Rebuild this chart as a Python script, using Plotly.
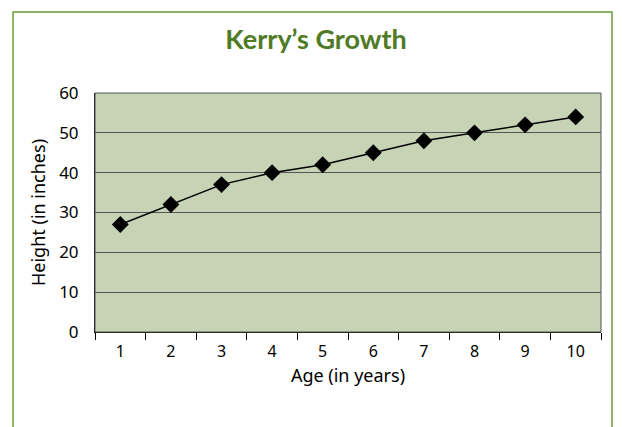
import plotly.graph_objects as go

ages = ["1", "2", "3", "4", "5", "6", "7", "8", "9", "10"]
heights = [27, 32, 37, 40, 42, 45, 48, 50, 52, 54]
y_ticks = [0, 10, 20, 30, 40, 50, 60]

fig = go.Figure()
fig.add_trace(go.Scatter(
    x=ages, y=heights, mode="lines+markers",
    line=dict(color="black", width=1.5),
    marker=dict(symbol="diamond", size=13, color="black"),
    showlegend=False,
))

W, H = 622, 427
L, R, T, B = 95, 21, 93, 95
pw, ph = W - L - R, H - T - B

fig.update_layout(
    width=W, height=H,
    margin=dict(l=L, r=R, t=T, b=B),
    paper_bgcolor="white",
    plot_bgcolor="#c6d3b4",
    title=dict(text="<b>Kerry’s Growth</b>", x=316 / W, xref="container",
               xanchor="center", y=1 - 40 / H, yanchor="middle",
               font=dict(family="Lato", size=27, color="#4f7b25")),
    font=dict(family="Noto Sans", size=16, color="black"),
    xaxis=dict(type="category", tickson="boundaries", ticks="outside", ticklen=7,
               tickcolor="black", showline=True, linecolor="black", linewidth=1,
               showgrid=False, range=[-0.5, 9.5],
               tickfont=dict(size=16), ticklabelstandoff=5,
               title=dict(text="Age (in years)", font=dict(size=18), standoff=8)),
    yaxis=dict(range=[0, 60], tickvals=y_ticks, showgrid=True, gridcolor="#555555",
               gridwidth=1, showline=True, linecolor="black", linewidth=1,
               ticks="", zeroline=False, tickfont=dict(size=17), ticklabelstandoff=12,
               title=dict(text="Height (in inches)", font=dict(size=18), standoff=8)),
    shapes=[
        dict(type="rect", xref="paper", yref="paper", x0=0, x1=1, y0=0, y1=1,
             line=dict(color="#555555", width=1), layer="above"),
        dict(type="rect", xref="paper", yref="paper",
             x0=(13 - L) / pw, x1=(612 - L) / pw,
             y0=(H - B - 440) / ph, y1=(H - B - 12) / ph,
             line=dict(color="#6b9a3a", width=1.5), layer="below"),
    ],
)
fig.write_html("out.html", config={"displayModeBar": False},
               post_script="document.body.style.margin='0';document.body.style.overflow='hidden';")
